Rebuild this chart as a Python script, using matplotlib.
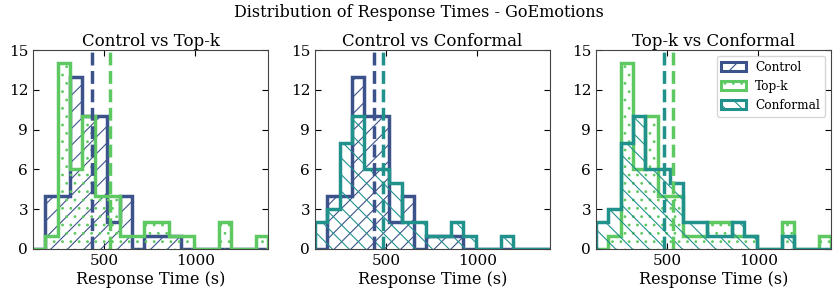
import numpy as np
import matplotlib
matplotlib.use("Agg")
import matplotlib.pyplot as plt
from matplotlib.patches import Patch

plt.rcParams['font.family'] = ['DejaVu Serif']
plt.rcParams['hatch.linewidth'] = 0.8

# ---- data ----
bin_lo, bin_hi, n_bins = 110, 1400, 19
control_counts = [0, 4, 4, 13, 10, 10, 2, 4, 0, 1, 1, 1, 0, 0, 0, 0, 0, 0, 0]
topk_counts = [0, 1, 14, 6, 10, 4, 4, 1, 1, 2, 2, 1, 1, 0, 0, 2, 0, 0, 1]
conformal_counts = [2, 3, 8, 10, 6, 6, 5, 2, 2, 1, 1, 2, 1, 0, 0, 1, 0, 0, 0]
means = {"Control": 436, "Top-k": 530, "Conformal": 481}

names = ["Control", "Top-k", "Conformal"]
counts = {"Control": control_counts, "Top-k": topk_counts, "Conformal": conformal_counts}
colors = {"Control": "#3b528b", "Top-k": "#5ec962", "Conformal": "#21918c"}
hatches = {"Control": "//", "Top-k": "..", "Conformal": "\\\\"}
pairs = [("Control", "Top-k"), ("Control", "Conformal"), ("Top-k", "Conformal")]
titles = ["Control vs Top-k", "Control vs Conformal", "Top-k vs Conformal"]

edges = np.linspace(bin_lo, bin_hi, n_bins + 1)
centers = 0.5 * (edges[:-1] + edges[1:])

fig = plt.figure(figsize=(8.37, 2.94), dpi=100)
lefts = [33, 315, 596]
axes = [fig.add_axes([l / 837, 45 / 294, 235 / 837, 199 / 294]) for l in lefts]

for ax, (a, b), title in zip(axes, pairs, titles):
    for name in (a, b):
        ax.hist(centers, bins=edges, weights=counts[name], histtype='step',
                color=colors[name], edgecolor=colors[name], lw=2.5,
                hatch=hatches[name])
    for name in (a, b):
        ax.axvline(means[name], color=colors[name], ls='--', lw=2.5)
    ax.set_xlim(bin_lo, bin_hi)
    ax.set_ylim(0, 15)
    ax.set_yticks([0, 3, 6, 9, 12, 15])
    ax.set_xticks([500, 1000])
    ax.tick_params(direction='in', top=True, right=True, labelsize=11, length=4)
    ax.set_title(title, fontsize=12, pad=3)
    ax.set_xlabel("Response Time (s)", fontsize=11.5, labelpad=2)
    for s in ax.spines.values():
        s.set_color('#444444')
        s.set_linewidth(0.8)

handles = [Patch(facecolor='white', edgecolor=colors[n], hatch=hatches[n], lw=2.2, label=n)
           for n in names]
axes[2].legend(handles=handles, loc='upper right', fontsize=8.7, framealpha=0.8)

fig.suptitle("Distribution of Response Times - GoEmotions", fontsize=11.5, y=0.985)
fig.savefig("out.png", dpi=100)
